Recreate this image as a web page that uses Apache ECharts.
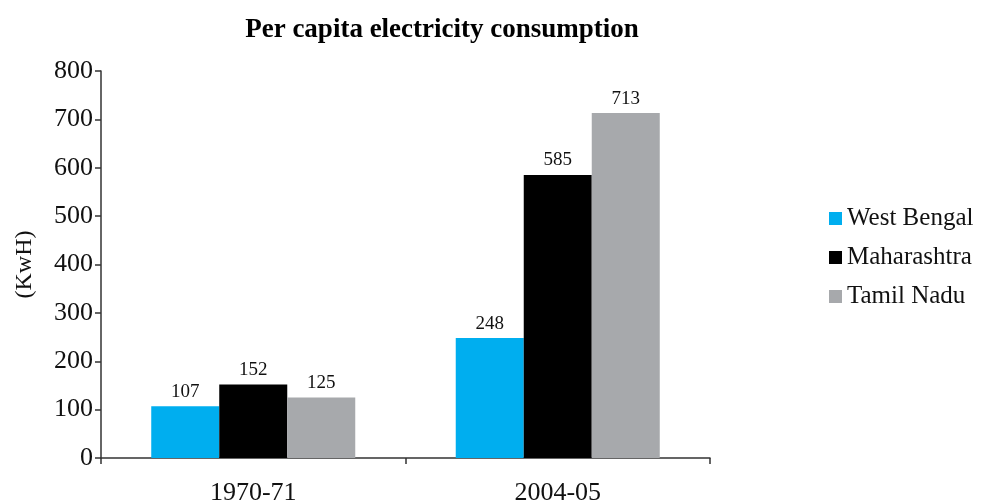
<!DOCTYPE html>
<html><head><meta charset="utf-8">
<script src="https://cdn.jsdelivr.net/npm/echarts@6/dist/echarts.min.js"></script>
<style>html,body{margin:0;padding:0;background:#fff}#c{width:983px;height:501px}</style>
</head><body><div id="c"></div>
<script>
const categories = ['1970-71', '2004-05'];
const seriesNames = ['West Bengal', 'Maharashtra', 'Tamil Nadu'];
const westBengal = [107, 248];
const maharashtra = [152, 585];
const tamilNadu = [125, 713];
const yTicks = [0, 100, 200, 300, 400, 500, 600, 700, 800];
const colors = ['#00AEEF', '#000000', '#A7A9AC'];
const font = "'Liberation Serif', 'DejaVu Serif', serif";

const values = [westBengal, maharashtra, tamilNadu];
const chart = echarts.init(document.getElementById('c'));
chart.setOption({
  animation: false,
  textStyle: { fontFamily: font },
  title: {
    text: 'Per capita electricity consumption',
    left: 437, top: 12, textAlign: 'center',
    textStyle: { fontFamily: font, fontWeight: 'bold', fontSize: 27, color: '#000' }
  },
  legend: {
    orient: 'vertical', left: 829, top: 206, padding: 0,
    itemWidth: 13, itemHeight: 13, itemGap: 14, icon: 'rect',
    textStyle: { fontFamily: font, fontSize: 25, color: '#111' },
    data: seriesNames
  },
  grid: { left: 101, top: 71, right: 273, bottom: 43, containLabel: false, outerBoundsMode: 'none' },
  xAxis: {
    type: 'category', data: categories,
    axisLine: { lineStyle: { color: '#333', width: 1.5 } },
    axisTick: { show: true, length: 6, lineStyle: { color: '#333', width: 1.5 } },
    axisLabel: { fontFamily: font, fontSize: 26, color: '#111', margin: 22 }
  },
  yAxis: {
    type: 'value', min: yTicks[0], max: yTicks[yTicks.length - 1], interval: 100,
    name: '(KwH)', nameLocation: 'middle', nameGap: 64, nameRotate: 90,
    nameTextStyle: { fontFamily: font, fontSize: 24, color: '#111' },
    axisLine: { show: true, lineStyle: { color: '#333', width: 1.5 } },
    axisTick: { show: true, length: 6, lineStyle: { color: '#333', width: 1.5 } },
    splitLine: { show: false },
    axisLabel: { fontFamily: font, fontSize: 26, color: '#111', margin: 8 }
  },
  series: seriesNames.map((n, i) => ({
    name: n, type: 'bar', data: values[i],
    itemStyle: { color: colors[i] },
    barGap: '0%', barCategoryGap: '33%',
    label: { show: true, position: 'top', distance: 5, fontFamily: font, fontSize: 19, color: '#111' }
  }))
});
</script></body></html>
